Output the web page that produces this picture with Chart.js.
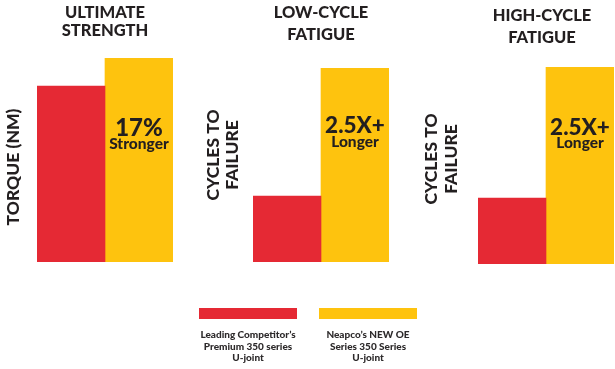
<!DOCTYPE html>
<html>
<head>
<meta charset="utf-8">
<script src="https://cdn.jsdelivr.net/npm/chart.js@4"></script>
<style>
  html, body { margin: 0; padding: 0; background: #fff; }
  #wrap { position: relative; width: 615px; height: 369px; }
  #wrap canvas { position: absolute; left: 0; top: 0; }
</style>
</head>
<body>
<div id="wrap">
  <canvas id="c0" width="615" height="369"></canvas>
  <canvas id="c1" width="615" height="369"></canvas>
  <canvas id="c2" width="615" height="369"></canvas>
</div>
<script>
// chart values (relative units)
const panelTitles = [['ULTIMATE', 'STRENGTH'], ['LOW-CYCLE', 'FATIGUE'], ['HIGH-CYCLE', 'FATIGUE']];
const axisTitles = [['TORQUE (NM)'], ['CYCLES TO', 'FAILURE'], ['CYCLES TO', 'FAILURE']];
const competitorValues = [100, 34, 33.5];
const neapcoValues = [116, 100, 100];
const callouts = [['17%', 'Stronger'], ['2.5X+', 'Longer'], ['2.5X+', 'Longer']];
const seriesNames = [
    ['Leading Competitor\u2019s', 'Premium 350 series', 'U-joint'],
    ['Neapco\u2019s NEW OE', 'Series 350 Series', 'U-joint']
];

const RED = '#e52934';
const YELLOW = '#fec30e';
const INK = '#231f20';
const FONT = 'Lato, "Open Sans", sans-serif';

// where each panel sits on the page
const layout = [
    { left: 37, right: 173, top: 58, bottom: 262, titleX: 105, titleBase: [18, 36], axisBase: [19], axisY: 167, calloutBase: [136, 149], calloutSize: 24 },
    { left: 253, right: 389, top: 68, bottom: 262, titleX: 321, titleBase: [18, 40], axisBase: [219, 238], axisY: 155, calloutBase: [133, 147], calloutSize: 22.5 },
    { left: 478, right: 614, top: 67, bottom: 264, titleX: 542, titleBase: [21, 43], axisBase: [437, 457], axisY: 159, calloutBase: [135, 148], calloutSize: 22.5 }
];

const panelText = {
    id: 'panelText',
    afterDatasetsDraw(chart, args, opts) {
        const i = opts.index;
        const L = layout[i];
        const ctx = chart.ctx;
        ctx.save();
        ctx.fillStyle = INK;
        ctx.textBaseline = 'alphabetic';
        ctx.textAlign = 'center';

        // panel title
        ctx.font = `900 16.5px ${FONT}`;
        panelTitles[i].forEach((t, k) => ctx.fillText(t, L.titleX, L.titleBase[k]));

        // callout inside the yellow bar
        const bar = chart.getDatasetMeta(1).data[0];
        ctx.font = `900 ${L.calloutSize}px ${FONT}`;
        ctx.fillText(callouts[i][0], bar.x, L.calloutBase[0]);
        ctx.font = `900 15.5px ${FONT}`;
        ctx.fillText(callouts[i][1], bar.x, L.calloutBase[1]);

        // rotated axis title
        ctx.font = `900 17.5px ${FONT}`;
        axisTitles[i].forEach((t, k) => {
            ctx.save();
            ctx.translate(L.axisBase[k], L.axisY);
            ctx.rotate(-Math.PI / 2);
            ctx.fillText(t, 0, 0);
            ctx.restore();
        });

        // legend, drawn once under the middle panel
        if (opts.legend) {
            const swatches = [{ x: 199, color: RED }, { x: 319, color: YELLOW }];
            swatches.forEach((s, k) => {
                ctx.fillStyle = s.color;
                ctx.fillRect(s.x, 308, 98, 11);
                ctx.fillStyle = '#2d2a2b';
                ctx.font = `900 10px ${FONT}`;
                seriesNames[k].forEach((line, j) => ctx.fillText(line, s.x + 49, 338 + j * 11.5));
            });
        }
        ctx.restore();
    }
};

layout.forEach((L, i) => {
    new Chart(document.getElementById('c' + i), {
        type: 'bar',
        data: {
            labels: [panelTitles[i].join(' ')],
            datasets: [
                { label: seriesNames[0].join(' '), data: [competitorValues[i]], backgroundColor: RED },
                { label: seriesNames[1].join(' '), data: [neapcoValues[i]], backgroundColor: YELLOW }
            ]
        },
        options: {
            responsive: false,
            animation: false,
            events: [],
            layout: {
                padding: { left: L.left, right: 615 - L.right, top: L.top, bottom: 369 - L.bottom }
            },
            datasets: { bar: { categoryPercentage: 1, barPercentage: 1, borderWidth: 0 } },
            scales: {
                x: { display: false },
                y: { display: false, min: 0, max: neapcoValues[i] }
            },
            plugins: {
                legend: { display: false },
                tooltip: { enabled: false },
                panelText: { index: i, legend: i === 1 }
            }
        },
        plugins: [panelText]
    });
});
</script>
</body>
</html>
